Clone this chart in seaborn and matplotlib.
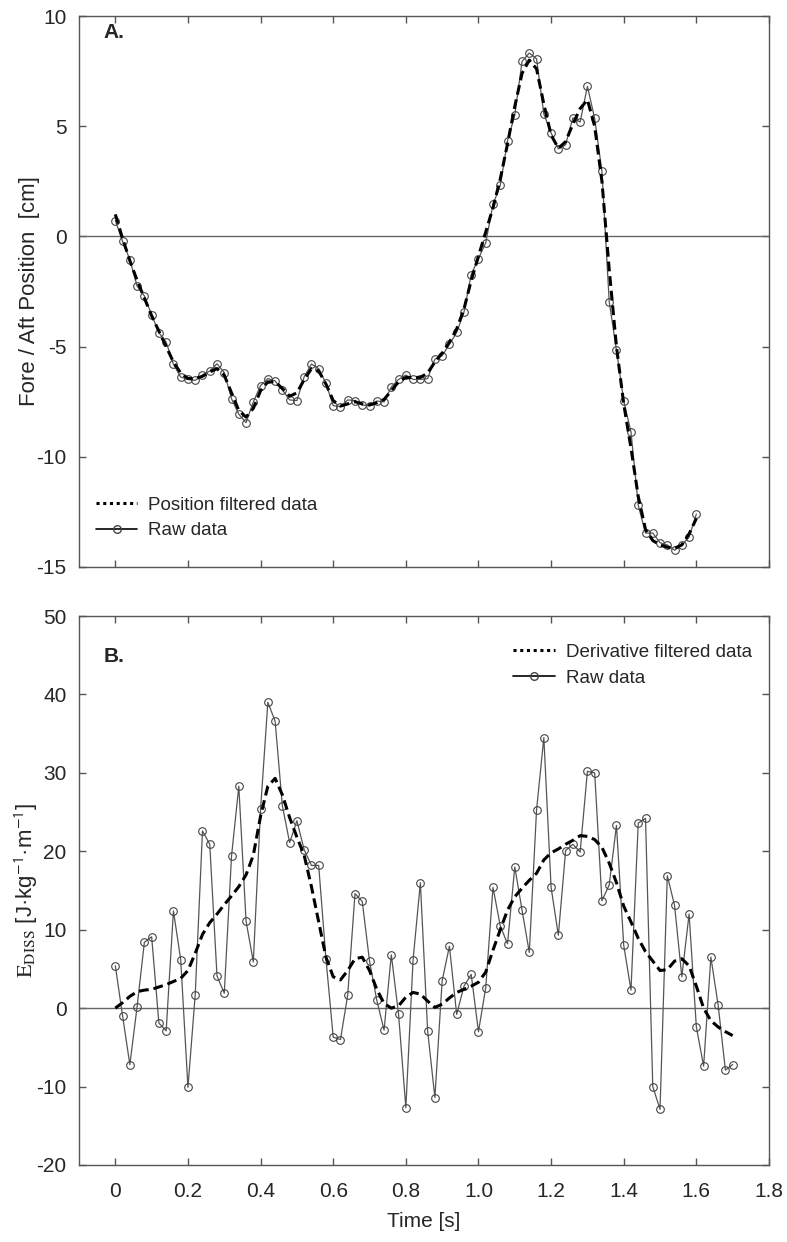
import numpy as np
import matplotlib
matplotlib.use("Agg")
import matplotlib.pyplot as plt
from matplotlib.lines import Line2D
import seaborn as sns

# Panel A: fore/aft position [cm], sampled every 0.02 s from 0 to 1.6 s
pos_time = [round(0.02 * i, 2) for i in range(81)]
pos_raw = [0.72, -0.23, -1.05, -2.26, -2.7, -3.56, -4.37, -4.8, -5.8, -6.38,
           -6.49, -6.53, -6.29, -6.11, -5.78, -6.18, -7.37, -8.07, -8.45, -7.51,
           -6.77, -6.45, -6.56, -6.97, -7.42, -7.45, -6.37, -5.79, -6.0, -6.67,
           -7.68, -7.72, -7.42, -7.45, -7.65, -7.68, -7.47, -7.51, -6.83, -6.49,
           -6.29, -6.49, -6.49, -6.45, -5.57, -5.41, -4.9, -4.36, -3.45, -1.73,
           -1.01, -0.29, 1.45, 2.31, 4.34, 5.5, 7.94, 8.32, 8.06, 5.55,
           4.7, 3.97, 4.16, 5.38, 5.19, 6.81, 5.35, 2.95, -2.96, -5.16,
           -7.47, -8.87, -12.2, -13.46, -13.46, -13.9, -14.0, -14.24, -14.0, -13.65,
           -12.6]
pos_filt = [1.0, -0.1, -1.1, -2.0, -2.8, -3.6, -4.3, -5.0, -5.7, -6.2,
            -6.45, -6.45, -6.35, -6.15, -6.0, -6.3, -7.1, -7.9, -8.2, -7.8,
            -7.0, -6.6, -6.6, -6.9, -7.25, -7.1, -6.5, -6.0, -6.1, -6.7,
            -7.45, -7.7, -7.6, -7.5, -7.6, -7.65, -7.55, -7.4, -7.0, -6.6,
            -6.4, -6.4, -6.4, -6.2, -5.7, -5.3, -4.8, -4.2, -3.3, -2.0,
            -0.9, 0.2, 1.3, 2.6, 4.2, 5.9, 7.4, 8.0, 7.6, 6.0,
            4.6, 4.0, 4.3, 5.1, 5.8, 6.2, 5.0, 2.5, -1.5, -5.0,
            -7.6, -9.6, -11.8, -13.3, -13.8, -14.0, -14.1, -14.15, -14.0, -13.5,
            -12.8]

# Panel B: dissipated energy [J/kg/m], sampled every 0.02 s from 0 to 1.7 s
ed_time = [round(0.02 * i, 2) for i in range(86)]
ed_raw = [5.4, -1.0, -7.2, 0.2, 8.4, 9.1, -1.9, -2.9, 12.4, 6.2,
          -10.1, 1.7, 22.6, 20.9, 4.1, 1.9, 19.4, 28.3, 11.1, 5.9,
          25.4, 39.0, 36.6, 25.8, 21.1, 23.9, 20.2, 18.2, 18.2, 6.3,
          -3.7, -4.0, 1.7, 14.6, 13.6, 6.0, 1.0, -2.8, 6.8, -0.8,
          -12.7, 6.2, 16.0, -2.9, -11.4, 3.5, 7.9, -0.8, 2.8, 4.3,
          -3.0, 2.6, 15.4, 10.5, 8.2, 18.0, 12.5, 7.1, 25.3, 34.5,
          15.4, 9.3, 20.1, 20.9, 19.9, 30.2, 30.0, 13.7, 15.7, 23.3,
          8.0, 2.3, 23.6, 24.2, -10.0, -12.9, 16.9, 13.1, 4.0, 12.0,
          -2.4, -7.4, 6.5, 0.4, -7.9, -7.2]
ed_filt = [0.0, 0.7, 1.5, 2.1, 2.3, 2.4, 2.7, 3.0, 3.4, 3.8,
           4.8, 7.0, 9.4, 10.9, 12.0, 13.2, 14.3, 15.5, 17.0, 19.5,
           24.5, 28.3, 29.3, 27.2, 24.3, 21.8, 19.5, 15.5, 11.0, 6.5,
           4.0, 3.6, 4.8, 6.3, 6.5, 4.8, 2.4, 0.6, 0.0, 0.3,
           1.4, 2.0, 1.8, 0.9, 0.1, 0.5, 1.3, 2.0, 2.4, 2.8,
           3.3, 4.6, 7.4, 10.0, 12.5, 14.2, 15.3, 16.3, 17.2, 18.9,
           19.8, 20.3, 20.9, 21.4, 22.0, 21.9, 21.5, 20.5, 18.5, 16.0,
           13.0, 11.0, 8.9, 7.2, 6.0, 4.8, 4.9, 6.0, 6.3, 5.4,
           2.8, 0.0, -1.6, -2.4, -3.0, -3.5]

x_ticks = [0, 0.2, 0.4, 0.6, 0.8, 1.0, 1.2, 1.4, 1.6, 1.8]
x_ticklabels = ["0", "0.2", "0.4", "0.6", "0.8", "1.0", "1.2", "1.4", "1.6", "1.8"]

sns.set_style("ticks")
plt.rcParams["font.family"] = ["Liberation Sans", "DejaVu Sans"]
plt.rcParams["axes.unicode_minus"] = False
plt.rcParams["mathtext.fontset"] = "stix"

SPINE = "#555555"
RAW = "#555555"

fig = plt.figure(figsize=(7.87, 12.42), dpi=100)
ax_a = fig.add_axes([0.1004, 0.5435, 0.8767, 0.4436])
ax_b = fig.add_axes([0.1004, 0.0620, 0.8767, 0.4420])


def draw_panel(ax, t, raw, filt):
    ax.axhline(0, color="#666666", lw=1.0, zorder=1)
    sns.lineplot(x=t, y=raw, ax=ax, color=RAW, lw=0.9, marker="o", markersize=5.5,
                 markerfacecolor="none", markeredgecolor="#444444",
                 markeredgewidth=0.8, zorder=2)
    sns.lineplot(x=t, y=filt, ax=ax, color="black", lw=2.2,
                 linestyle=(0, (3.2, 1.6)), zorder=3)
    ax.set_xlim(-0.1, 1.8)
    ax.set_xticks(x_ticks)
    for side in ["top", "right", "left", "bottom"]:
        ax.spines[side].set_visible(True)
        ax.spines[side].set_color(SPINE)
        ax.spines[side].set_linewidth(1.0)
    ax.tick_params(direction="in", length=5, width=1.0, color=SPINE,
                   top=True, right=True, labelsize=15)
    ax.tick_params(axis="y", pad=9)
    ax.tick_params(axis="x", pad=12)


def legend_handles(label):
    return [Line2D([], [], color="black", lw=2.2, linestyle=(0, (1, 1.2))),
            Line2D([], [], color="black", lw=1.2, marker="o", markersize=5.5,
                   markerfacecolor="none", markeredgecolor="#444444")], [label, "Raw data"]


draw_panel(ax_a, pos_time, pos_raw, pos_filt)
ax_a.set_ylim(-15, 10)
ax_a.set_yticks([10, 5, 0, -5, -10, -15])
ax_a.set_xticklabels([])
ax_a.set_xlabel("")
ax_a.set_ylabel("Fore / Aft Position  [cm]", fontsize=16)
ax_a.yaxis.set_label_coords(-0.057, 0.5)
ax_a.text(0.035, 0.97, "A.", transform=ax_a.transAxes, fontsize=15,
          fontweight="bold", va="center", ha="left")
h, l = legend_handles("Position filtered data")
ax_a.legend(h, l, loc="lower left", bbox_to_anchor=(0.0, 0.02), frameon=False,
            fontsize=13.5, handlelength=2.2, handletextpad=0.6, labelspacing=0.45)

draw_panel(ax_b, ed_time, ed_raw, ed_filt)
ax_b.set_ylim(-20, 50)
ax_b.set_yticks([50, 40, 30, 20, 10, 0, -10, -20])
ax_b.set_xticklabels(x_ticklabels)
ax_b.set_xlabel("Time [s]", fontsize=15, labelpad=8)
ax_b.set_ylabel(r"$\mathrm{E}_{\mathrm{DISS}}$ [J·kg$^{\mathsf{-1}}$·m$^{\mathsf{-1}}$]",
                fontsize=16)
ax_b.yaxis.set_label_coords(-0.057, 0.5)
ax_b.text(0.035, 0.927, "B.", transform=ax_b.transAxes, fontsize=15,
          fontweight="bold", va="center", ha="left")
h, l = legend_handles("Derivative filtered data")
ax_b.legend(h, l, loc="upper right", bbox_to_anchor=(1.0, 0.98), frameon=False,
            fontsize=13.5, handlelength=2.2, handletextpad=0.6, labelspacing=0.45)

fig.savefig("out.png", dpi=100)
